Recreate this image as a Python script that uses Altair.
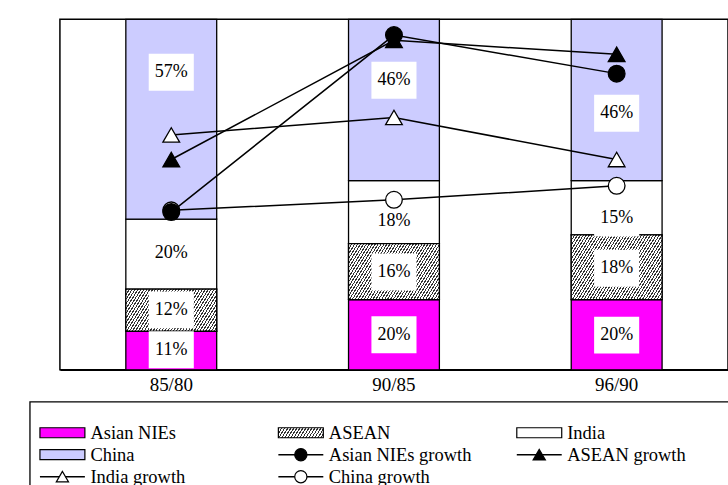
import altair as alt
import pandas as pd
import math

FONT = "Liberation Serif"

# ---------------- data ----------------
periods = ["85/80", "90/85", "96/90"]

series = ["Asian NIEs", "ASEAN", "India", "China"]
nies = [1.1, 2.0, 2.0]
asean = [1.2, 1.6, 1.85]
india = [2.0, 1.8, 1.55]
china = [5.7, 4.6, 4.6]

nies_lbl = ["11%", "20%", "20%"]
asean_lbl = ["12%", "16%", "18%"]
india_lbl = ["20%", "18%", "15%"]
china_lbl = ["57%", "46%", "46%"]

# where each share label sits (in % units on the y axis)
nies_lbl_y = [0.57, 1.0, 0.99]
asean_lbl_y = [1.71, 2.79, 2.9]
india_lbl_y = [3.33, 4.24, 4.33]
china_lbl_y = [8.49, 8.26, 7.32]

growth_names = ["Asian NIEs growth", "ASEAN growth", "India growth", "China growth"]
nies_growth = [4.5, 9.55, 8.45]
asean_growth = [6.0, 9.4, 9.0]
india_growth = [6.7, 7.2, 6.0]
china_growth = [4.55, 4.85, 5.25]

bar_colors = ["#FF00FF", "#A0A0A0", "#FFFFFF", "#CCCCFF"]

PLOT_W, PLOT_H = 669, 351
BAR_W = 91


def hatch(w, h, period=2.5, dark=0.4, angle=58):
    """Diagonal '/' hatch as a striped linear gradient for a w x h box."""
    th = math.radians(angle)
    s, c = math.sin(th), math.cos(th)
    span = w * s + h * c
    k = span / (w * w * s * s + h * h * c * c)
    n = max(1, int(round(span / period)))
    stops = []
    for i in range(n):
        a0 = i / n
        a1 = (i + dark) / n
        a2 = (i + 1) / n
        stops += [
            {"offset": a0, "color": "#333333"},
            {"offset": a1, "color": "#333333"},
            {"offset": a1, "color": "#ffffff"},
            {"offset": a2, "color": "#ffffff"},
        ]
    return {"gradient": "linear", "x1": 0, "y1": 0, "x2": k * w * s, "y2": k * h * c,
            "stops": stops}


# ---------------- tables ----------------
rows = []
lbl_rows = []
vals = [nies, asean, india, china]
lbls = [nies_lbl, asean_lbl, india_lbl, china_lbl]
lbl_ys = [nies_lbl_y, asean_lbl_y, india_lbl_y, china_lbl_y]
for i, p in enumerate(periods):
    base = 0.0
    for s, v, l, ly in zip(series, vals, lbls, lbl_ys):
        rows.append({"period": p, "series": s, "y0": base, "y1": base + v[i]})
        base += v[i]
        lbl_rows.append({"period": p, "label": l[i], "ly": ly[i]})
bars_df = pd.DataFrame(rows)
lbl_df = pd.DataFrame(lbl_rows)

g_rows = []
gvals = [nies_growth, asean_growth, india_growth, china_growth]
g_shape = ["circle", "triangle-up", "triangle-up", "circle"]
g_fill = ["black", "black", "white", "white"]
g_order = [3, 2, 1, 0]
for name, v, sh, fc, o in zip(growth_names, gvals, g_shape, g_fill, g_order):
    for i, p in enumerate(periods):
        g_rows.append({"period": p, "name": name, "g": v[i], "shape": sh, "fillc": fc, "o": o})
g_df = pd.DataFrame(g_rows)

# legend table
leg_labels = ["Asian NIEs", "ASEAN", "India", "China",
              "Asian NIEs growth", "ASEAN growth", "India growth", "China growth"]
leg_kind = ["box", "hatch", "box", "box", "line", "line", "line", "line"]
leg_fill = bar_colors + g_fill
leg_shape = ["", "", "", ""] + g_shape
leg_df = pd.DataFrame({
    "label": leg_labels,
    "kind": leg_kind,
    "fillc": leg_fill,
    "shape": leg_shape,
    "col": [i % 3 for i in range(8)],
    "row": [i // 3 for i in range(8)],
})

# ---------------- main chart ----------------
x_enc = alt.X(
    "period:N", sort=periods,
    scale=alt.Scale(paddingInner=0.592, paddingOuter=0.296),
    axis=alt.Axis(title=None, labelAngle=0, labelFont=FONT, labelFontSize=19,
                  labelColor="black", domainColor="black", domainWidth=1.5,
                  ticks=False, labelPadding=6),
)
x_plain = alt.X("period:N", sort=periods)
y_scale = alt.Scale(domain=[0, 10], nice=False, zero=True)

bars = alt.Chart(bars_df).mark_bar(stroke="black", strokeWidth=1.3).encode(
    x=x_enc,
    y=alt.Y("y0:Q", scale=y_scale,
            axis=alt.Axis(title=None, values=[0, 2, 4, 6, 8, 10],
                          labelExpr="datum.value + '%'", labelFont=FONT,
                          labelFontSize=19, labelColor="black", ticks=False,
                          labelPadding=15, domainColor="black", domainWidth=1.5,
                          grid=True, gridColor="#777777", gridWidth=1)),
    y2="y1:Q",
    fill=alt.Fill("series:N", scale=alt.Scale(domain=series, range=bar_colors), legend=None),
)

# hatched ASEAN segments, one per period (gradient depends on segment size)
hatch_layers = []
for i, p in enumerate(periods):
    h_px = asean[i] * PLOT_H / 10.0
    hatch_layers.append(
        alt.Chart(bars_df)
        .transform_filter(f"datum.series == 'ASEAN' && datum.period == '{p}'")
        .mark_bar(stroke="black", strokeWidth=1.3)
        .encode(x=x_plain, y=alt.Y("y0:Q", scale=y_scale, axis=None), y2="y1:Q",
                fill=alt.value(hatch(BAR_W, h_px)))
    )

box_path = "M-1.22,-1L1.22,-1L1.22,1L-1.22,1Z"
lbl_box = alt.Chart(lbl_df).mark_point(
    shape=box_path, size=1369, filled=True, fill="white", opacity=1, strokeWidth=0
).encode(x=x_plain, y=alt.Y("ly:Q", scale=y_scale, axis=None))

lbl_txt = alt.Chart(lbl_df).mark_text(
    font=FONT, fontSize=18, color="black", baseline="middle"
).encode(x=x_plain, y=alt.Y("ly:Q", scale=y_scale, axis=None), text="label:N")

lines = alt.Chart(g_df).mark_line(color="black", strokeWidth=1.5).encode(
    x=x_plain,
    y=alt.Y("g:Q", scale=y_scale, axis=None),
    detail="name:N",
)
pts = alt.Chart(g_df).mark_point(
    size=280, stroke="black", strokeWidth=1.3, opacity=1, filled=True
).encode(
    x=x_plain,
    y=alt.Y("g:Q", scale=y_scale, axis=None),
    shape=alt.Shape("shape:N", scale=None),
    fill=alt.Fill("fillc:N", scale=None),
    order=alt.Order("o:Q"),
)

main = alt.layer(bars, *hatch_layers, lbl_box, lbl_txt, lines, pts)

# ---------------- legend ----------------
lx = alt.X("col:Q", scale=alt.Scale(domain=[0, 2], range=[2.5, 480]), axis=None)
ly = alt.Y("row:Q", scale=alt.Scale(domain=[0, 2], range=[414, 458]), axis=None)

frame = alt.Chart(pd.DataFrame({"a": [0]})).mark_rect(
    fill="white", stroke="black", strokeWidth=1.3
).encode(x=alt.value(-30), x2=alt.value(720), y=alt.value(383), y2=alt.value(530))

rect_path = "M-2.25,-0.5L2.25,-0.5L2.25,0.5L-2.25,0.5Z"
leg_box = alt.Chart(leg_df).transform_filter("datum.kind == 'box'").mark_point(
    shape=rect_path, size=400, filled=True, stroke="black", strokeWidth=1.2, opacity=1
).encode(x=lx, y=ly, fill=alt.Fill("fillc:N", scale=None))

leg_hatch = alt.Chart(leg_df).transform_filter("datum.kind == 'hatch'").mark_point(
    shape=rect_path, size=400, filled=True, stroke="black", strokeWidth=1.2, opacity=1
).encode(x=lx, y=ly, fill=alt.value(hatch(45, 10)))

leg_line = alt.Chart(leg_df).transform_filter("datum.kind == 'line'").mark_point(
    shape="M-1,0L1,0", size=2025, filled=False, stroke="black", strokeWidth=1.5, opacity=1
).encode(x=lx, y=ly)

leg_mark = alt.Chart(leg_df).transform_filter("datum.kind == 'line'").mark_point(
    size=150, filled=True, stroke="black", strokeWidth=1.2, opacity=1
).encode(x=lx, y=ly, shape=alt.Shape("shape:N", scale=None),
         fill=alt.Fill("fillc:N", scale=None))

leg_txt = alt.Chart(leg_df).mark_text(
    font=FONT, fontSize=18.5, color="black", align="left", baseline="middle", dx=28
).encode(x=lx, y=ly, text="label:N")

legend = alt.layer(frame, leg_box, leg_hatch, leg_line, leg_mark, leg_txt)

chart = alt.layer(main, legend).resolve_scale(
    x="independent", y="independent"
).properties(
    width=PLOT_W, height=PLOT_H,
    autosize=alt.AutoSizeParams(type="none"),
    padding={"left": 60, "top": 19, "right": 0, "bottom": 115},
).configure_view(stroke="black", strokeWidth=1.5)

chart.save("out.html", embed_options={"renderer": "svg", "actions": False})
